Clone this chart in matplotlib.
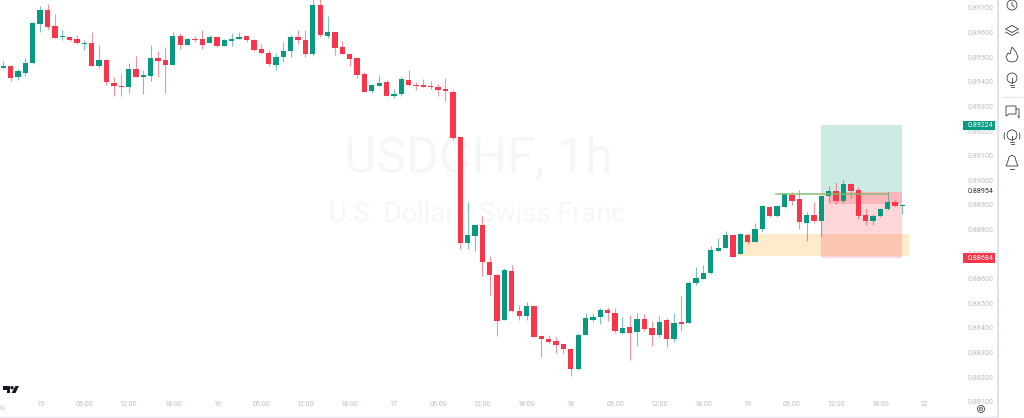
import numpy as np
import matplotlib
matplotlib.use("Agg")
import matplotlib.pyplot as plt
from matplotlib.patches import Circle, Polygon, Rectangle

# USDCHF 1h candles, in points (price * 1e5)
opens = [89456, 89465, 89419, 89437, 89476, 89634, 89691, 89625, 89583, 89583, 89572, 89554, 89557, 89466, 89488, 89397, 89382, 89378, 89452, 89420,
         89423, 89495, 89487, 89469, 89586, 89549, 89573, 89573, 89557, 89582, 89546, 89567, 89575, 89586, 89571, 89533, 89519, 89470, 89499, 89525,
         89584, 89571, 89515, 89712, 89588, 89602, 89540, 89514, 89495, 89430, 89361, 89384, 89400, 89343, 89350, 89407, 89387, 89387, 89382, 89378,
         89370, 89360, 89175, 88745, 88775, 88816, 88668, 88615, 88432, 88631, 88469, 88450, 88489, 88367, 88356, 88347, 88333, 88315, 88232, 88371,
         88433, 88442, 88473, 88462, 88377, 88402, 88381, 88435, 88400, 88370, 88431, 88354, 88423, 88420, 88581, 88599, 88622, 88714, 88725, 88779,
         88702, 88777, 88750, 88800, 88893, 88853, 88893, 88938, 88922, 88827, 88860, 88835, 88935, 88956, 88916, 88983, 88960, 88857, 88836, 88854,
         88881, 88910, 88895]
highs = [89485, 89468, 89454, 89496, 89644, 89708, 89716, 89675, 89610, 89586, 89591, 89568, 89601, 89549, 89492, 89418, 89431, 89475, 89504, 89447,
         89550, 89525, 89541, 89601, 89597, 89580, 89586, 89610, 89590, 89582, 89576, 89598, 89601, 89587, 89575, 89553, 89531, 89519, 89560, 89592,
         89609, 89610, 89740, 89740, 89667, 89603, 89564, 89515, 89502, 89441, 89393, 89426, 89406, 89370, 89422, 89447, 89399, 89411, 89403, 89391,
         89415, 89366, 89175, 88910, 88817, 88856, 88690, 88618, 88642, 88657, 88492, 88504, 88489, 88371, 88370, 88362, 88334, 88317, 88378, 88461,
         88462, 88479, 88485, 88480, 88442, 88452, 88462, 88456, 88427, 88446, 88439, 88461, 88530, 88589, 88646, 88657, 88733, 88765, 88793, 88779,
         88784, 88786, 88827, 88901, 88895, 88895, 88943, 88952, 88960, 88869, 88910, 88935, 88975, 88991, 88999, 88987, 88972, 88883, 88862, 88885,
         88952, 88918, 88903]
lows = [89453, 89405, 89408, 89423, 89473, 89602, 89610, 89579, 89571, 89567, 89553, 89529, 89465, 89457, 89386, 89344, 89344, 89354, 89418, 89349,
        89404, 89419, 89354, 89468, 89534, 89548, 89560, 89534, 89556, 89540, 89545, 89546, 89572, 89560, 89525, 89515, 89465, 89447, 89479, 89502,
        89553, 89502, 89506, 89583, 89578, 89509, 89512, 89465, 89416, 89357, 89354, 89382, 89343, 89334, 89342, 89382, 89366, 89378, 89369, 89343,
        89322, 89164, 88722, 88722, 88711, 88611, 88532, 88367, 88431, 88466, 88432, 88432, 88363, 88282, 88340, 88299, 88299, 88203, 88230, 88370,
        88425, 88415, 88429, 88379, 88373, 88268, 88328, 88385, 88328, 88362, 88322, 88341, 88389, 88419, 88572, 88597, 88619, 88713, 88723, 88689,
        88701, 88740, 88748, 88789, 88851, 88851, 88888, 88900, 88800, 88751, 88824, 88770, 88910, 88903, 88908, 88927, 88843, 88816, 88819, 88851,
        88877, 88892, 88864]
closes = [89465, 89415, 89442, 89476, 89638, 89691, 89624, 89580, 89586, 89571, 89556, 89557, 89466, 89488, 89400, 89381, 89380, 89452, 89419, 89426,
          89495, 89485, 89469, 89586, 89549, 89572, 89571, 89549, 89582, 89546, 89570, 89576, 89584, 89571, 89530, 89519, 89473, 89500, 89526, 89584,
          89571, 89515, 89712, 89590, 89602, 89536, 89514, 89492, 89427, 89360, 89387, 89395, 89344, 89351, 89411, 89388, 89384, 89380, 89377, 89367,
          89361, 89173, 88745, 88776, 88816, 88667, 88614, 88429, 88634, 88467, 88450, 88488, 88364, 88353, 88344, 88330, 88315, 88233, 88370, 88439,
          88444, 88473, 88461, 88386, 88400, 88377, 88435, 88397, 88371, 88425, 88354, 88421, 88417, 88583, 88601, 88623, 88715, 88726, 88779, 88689,
          88782, 88748, 88801, 88895, 88853, 88895, 88942, 88916, 88831, 88860, 88834, 88935, 88956, 88916, 88986, 88957, 88855, 88836, 88855, 88883,
          88911, 88896, 88900]

time_pos = [5, 11, 17, 23, 29, 35, 41, 47, 53, 59, 65, 71, 77, 83, 89, 95, 101, 107, 113, 119, 125]
time_labels = ["15", "06:00", "12:00", "18:00", "16", "06:00", "12:00", "18:00", "17", "06:00", "12:00", "18:00",
               "18", "06:00", "12:00", "18:00", "19", "06:00", "12:00", "18:00", "22"]
price_ticks = [88100, 88200, 88300, 88400, 88500, 88600, 88700, 88800, 88900, 89000, 89100, 89200, 89300, 89400, 89500, 89600, 89700]

target = 89224
entry = 88954
stop = 88684
current = 88954

GREEN = "#089981"
RED = "#F7364B"
GREY = "#BABDC6"
plt.rcParams["font.family"] = "Roboto"

opens = np.array(opens) / 1e5
highs = np.array(highs) / 1e5
lows = np.array(lows) / 1e5
closes = np.array(closes) / 1e5
x = np.arange(len(opens))

fig = plt.figure(figsize=(10.24, 4.18), dpi=100, facecolor="white")
ax = fig.add_axes([0, 2 / 418, 997 / 1024, 416 / 418])
ax.set_xlim(-3.3 / 7.37, (997 - 3.3) / 7.37)
ax.set_ylim(0.8970 - (416 - 8) * 0.001 / 24.6, 0.8970 + 8 * 0.001 / 24.6)
for s in ax.spines.values():
    s.set_visible(False)

# watermark
ax.text(0.480, 0.62, "USDCHF, 1h", transform=ax.transAxes, ha="center", va="center", fontsize=36, color="#F5F6F6", zorder=0)
ax.text(0.4785, 0.485, "U.S. Dollar / Swiss Franc", transform=ax.transAxes, ha="center", va="center", fontsize=19.5, color="#F5F6F6", zorder=0)

# position zones
ax.add_patch(Rectangle((99.55, 0.88693), 23.3, 0.00088, fc="#FF9800", alpha=0.2, lw=0, zorder=1))
ax.add_patch(Rectangle((110.95, entry / 1e5), 11.05, (target - entry) / 1e5, fc=GREEN, alpha=0.2, lw=0, zorder=1))
ax.add_patch(Rectangle((110.95, stop / 1e5), 11.05, (entry - stop) / 1e5, fc="#F23645", alpha=0.2, lw=0, zorder=1))
ax.add_patch(Rectangle((112, 0.88903), 10, 0.00051, fc="#F23645", alpha=0.2, lw=0, zorder=1))

# candles
up = closes >= opens
colors = np.where(up, GREEN, RED)
ax.vlines(x, lows, highs, colors=colors, lw=0.8, alpha=0.55, zorder=2)
ax.bar(x, np.abs(closes - opens), bottom=np.minimum(opens, closes), width=0.72, color=colors, lw=0, zorder=3)

ax.plot([104.85, 119.9], [0.88945, 0.88945], color="#7DBE6E", lw=1.3, alpha=0.8, zorder=4)

ax.set_xticks(time_pos, time_labels)
ax.yaxis.tick_right()
ax.set_yticks(np.array(price_ticks) / 1e5, [f"{p / 1e5:.5f}" for p in price_ticks])
ax.tick_params(axis="x", length=0, pad=-10.5, labelsize=5.1, labelcolor=GREY)
ax.tick_params(axis="y", length=0, pad=-21, labelsize=5.1, labelcolor=GREY)

# overlay in pixels for price tags, icons, borders
ov = fig.add_axes([0, 0, 1, 1], facecolor="none")
ov.set_xlim(0, 1024)
ov.set_ylim(418, 0)
ov.axis("off")

# cut off at the left edge of the chart
ov.text(-4, 408, "18:00", ha="center", va="center", fontsize=5.1, color=GREY)
ov.plot([998, 998], [0, 416], color="#E0E3EB", lw=1.5)
ov.plot([0, 998], [417, 417], color="#E8EAF0", lw=1)

ov.add_patch(Rectangle((963, 120.7), 32, 9.5, fc=GREEN, lw=0, zorder=5))
ov.add_patch(Rectangle((963, 253), 32, 10, fc=RED, lw=0, zorder=5))
ov.text(968, 125.5, f"{target / 1e5:.5f}", color="white", fontsize=5.1, va="center", zorder=6)
ov.text(968, 258, f"{stop / 1e5:.5f}", color="white", fontsize=5.1, va="center", zorder=6)
ov.text(968, 191.5, f"{current / 1e5:.5f}", color="#2A2E39", fontsize=5.1, va="center", zorder=6)

# TradingView logo
ov.add_patch(Polygon([(3, 386), (10, 386), (10, 393), (7, 393), (7, 389.5), (3, 389.5)], fc="#131722", lw=0))
ov.add_patch(Circle((12, 387.7), 1.7, fc="#131722", lw=0))
ov.add_patch(Polygon([(15.5, 386), (19, 386), (15.5, 393), (11.5, 393)], fc="#131722", lw=0))

# settings gear
ov.add_patch(Circle((981, 409), 3.5, fc="none", ec="#50535E", lw=0.7))
ov.add_patch(Circle((981, 409), 1.4, fc="none", ec="#50535E", lw=0.7))

# side toolbar
ic = "#3A3D47"
lw = 0.6
ov.add_patch(Circle((1012, 5), 5, fc="none", ec=ic, lw=lw))
ov.plot([1012, 1012, 1014], [2, 5, 7], color=ic, lw=lw)
ov.add_patch(Polygon([(1005.5, 29), (1012, 25.5), (1018.5, 29), (1012, 32.5)], fc="none", ec=ic, lw=lw))
ov.plot([1005.5, 1012, 1018.5], [32, 35.5, 32], color=ic, lw=lw)
ov.add_patch(Polygon([(1012, 47), (1016, 52), (1018, 57), (1016, 61), (1012, 62), (1008, 61), (1006, 57), (1008, 53), (1010, 54)], fc="none", ec=ic, lw=lw))
ov.add_patch(Circle((1012, 78), 5, fc="none", ec=ic, lw=lw))
ov.plot([1010, 1014], [85, 85], color=ic, lw=lw)
ov.plot([1010.5, 1013.5], [87, 87], color=ic, lw=lw)
ov.plot([1012, 1012], [78, 83], color=ic, lw=lw)
ov.plot([1003, 1022], [97, 97], color="#E0E3EB", lw=0.8)
ov.add_patch(Polygon([(1006, 106), (1016, 106), (1016, 114), (1009, 114), (1006, 116)], fc="none", ec=ic, lw=lw))
ov.plot([1016, 1019, 1019, 1018], [109, 109, 118, 116], color=ic, lw=lw)
ov.add_patch(Circle((1012, 135), 5, fc="none", ec=ic, lw=lw))
ov.plot([1010, 1014], [142, 142], color=ic, lw=lw)
ov.plot([1010.5, 1013.5], [144, 144], color=ic, lw=lw)
ov.plot([1012, 1012], [136, 140], color=ic, lw=lw)
ov.plot([1004.5, 1004, 1004.5], [133, 136, 139], color=ic, lw=lw)
ov.plot([1019.5, 1020, 1019.5], [133, 136, 139], color=ic, lw=lw)
ov.add_patch(Polygon([(1012, 155), (1015, 157), (1016, 161), (1018, 166), (1006, 166), (1008, 161), (1009, 157)], fc="none", ec=ic, lw=lw))
ov.plot([1010, 1014], [168.5, 168.5], color=ic, lw=lw)

fig.savefig("out.png", dpi=100)
